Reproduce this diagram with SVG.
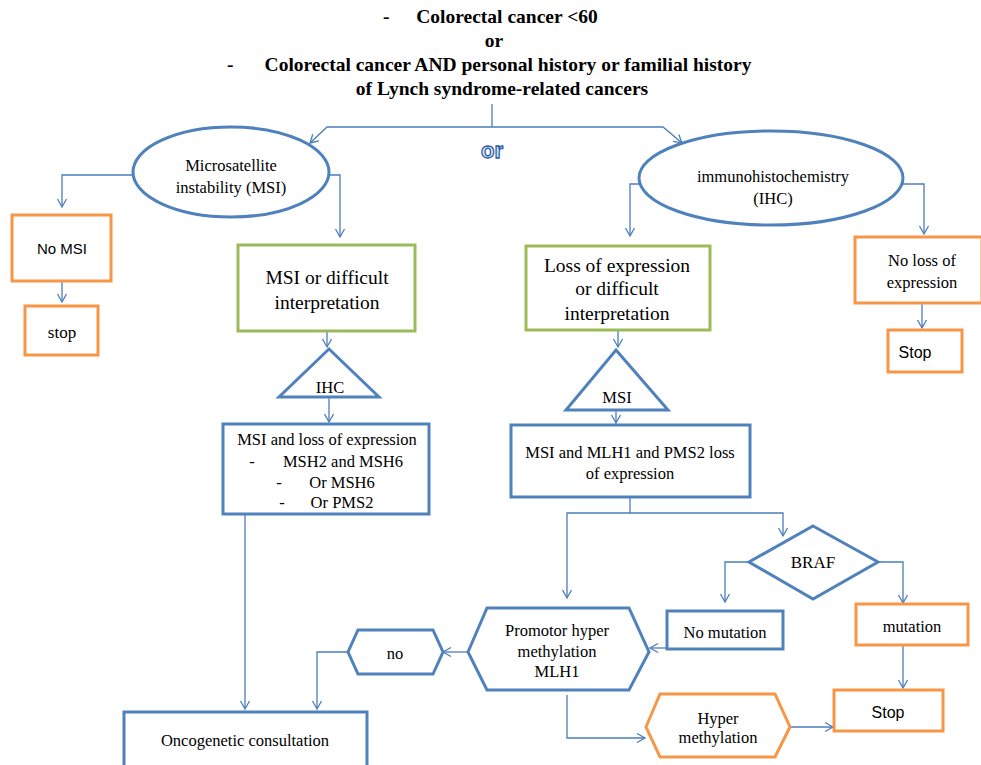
<svg xmlns="http://www.w3.org/2000/svg" width="981" height="765" viewBox="0 0 981 765">
<defs>
<marker id="arr" markerUnits="userSpaceOnUse" markerWidth="12" markerHeight="12" refX="9" refY="6" orient="auto">
<path d="M1,1.5 L9,6 L1,10.5" fill="none" stroke="#4A7EBB" stroke-width="1.3"/>
</marker>
</defs>
<style>
.bl{fill:#fff;stroke:#4F81BD;stroke-width:3}
.or{fill:#fff;stroke:#F79646;stroke-width:3}
.gr{fill:#fff;stroke:#9BBB59;stroke-width:3}
.c{fill:none;stroke:#4A7EBB;stroke-width:1.3}
.ca{fill:none;stroke:#4A7EBB;stroke-width:1.3;marker-end:url(#arr)}
.t{font-family:"Liberation Serif","Times New Roman",serif;fill:#000;text-anchor:middle;font-size:16.5px}
.s{font-family:"Liberation Sans",Arial,sans-serif;fill:#000;text-anchor:middle;font-size:15px}
.g{font-size:19.5px}
.h{font-family:"Liberation Serif","Times New Roman",serif;font-weight:bold;font-size:19.5px;fill:#000}
</style>
<rect width="981" height="765" fill="#fff"/>

<g id="title">
<text class="h" x="383" y="23">-</text>
<text class="h" x="507" y="23" text-anchor="middle">Colorectal cancer &lt;60</text>
<text class="h" x="494" y="47" text-anchor="middle">or</text>
<text class="h" x="227" y="71">-</text>
<text class="h" x="508" y="71" text-anchor="middle">Colorectal cancer AND personal history or familial history</text>
<text class="h" x="502" y="95" text-anchor="middle">of Lynch syndrome-related cancers</text>
</g>

<g id="or-label">
<text x="492" y="158" font-family="Liberation Sans,Arial,sans-serif" font-weight="bold" font-size="22" text-anchor="middle" fill="#e3edf8" stroke="#2A5CA8" stroke-width="1.3">or</text>
</g>

<g id="connectors">
<path class="c" d="M492,104 V127"/>
<path class="ca" d="M492,127 H327 L310,143"/>
<path class="ca" d="M492,127 H663 L682,143"/>
<path class="ca" d="M133,175 H62 V207"/>
<path class="ca" d="M329,175 H340 V237"/>
<path class="ca" d="M62,281 V302"/>
<path class="ca" d="M327,331 V347"/>
<path class="ca" d="M329,398 V422"/>
<path class="ca" d="M245,513 V709"/>
<path class="ca" d="M641,184 H630 V236"/>
<path class="ca" d="M902,184 H924 V234"/>
<path class="ca" d="M922,303 V328"/>
<path class="ca" d="M618,331 V347"/>
<path class="ca" d="M616,410 V423"/>
<path class="c" d="M630,497 V513"/>
<path class="ca" d="M630,513 H567 V598"/>
<path class="ca" d="M630,513 H783 V536"/>
<path class="ca" d="M749,562 H725 V602"/>
<path class="ca" d="M878,562 H903 V603"/>
<path class="ca" d="M667,648 H650"/>
<path class="ca" d="M903,645 V688"/>
<path class="ca" d="M468,652 H443"/>
<path class="ca" d="M348,652 H317 V709"/>
<path class="ca" d="M567,695 V738 H645"/>
<path class="ca" d="M790,727 H833"/>
</g>

<g id="msi">
<ellipse class="bl" cx="231" cy="172" rx="98" ry="45"/>
<text class="t" x="231" y="171">Microsatellite</text>
<text class="t" x="231" y="193">instability (MSI)</text>
</g>

<g id="no-msi">
<rect class="or" x="12" y="215" width="99" height="66"/>
<text class="s" x="62" y="254">No MSI</text>
</g>

<g id="stop-left">
<rect class="or" x="25" y="306" width="73" height="49"/>
<text class="t" x="62" y="338" style="font-size:17px">stop</text>
</g>

<g id="msi-difficult">
<rect class="gr" x="238" y="245" width="177" height="86"/>
<text class="t g" x="327" y="284">MSI or difficult</text>
<text class="t g" x="327" y="309">interpretation</text>
</g>

<g id="ihc-triangle">
<polygon class="bl" points="329,349 379,397 279,397"/>
<text class="t" x="330" y="393">IHC</text>
</g>

<g id="msi-loss">
<rect class="bl" x="223" y="424" width="206" height="90"/>
<text class="t" x="327" y="445">MSI and loss of expression</text>
<text class="t" x="252" y="467">-</text>
<text class="t" x="343" y="467">MSH2 and MSH6</text>
<text class="t" x="279" y="488">-</text>
<text class="t" x="342" y="488">Or MSH6</text>
<text class="t" x="282" y="508">-</text>
<text class="t" x="342" y="508">Or PMS2</text>
</g>

<g id="oncogenetic">
<rect class="bl" x="124" y="712" width="243" height="60"/>
<text class="t" x="245" y="746">Oncogenetic consultation</text>
</g>

<g id="ihc">
<ellipse class="bl" cx="771" cy="178" rx="132" ry="47"/>
<text class="t" x="773" y="182">immunohistochemistry</text>
<text class="t" x="773" y="204">(IHC)</text>
</g>

<g id="loss-difficult">
<rect class="gr" x="526" y="246" width="184" height="84"/>
<text class="t g" x="617" y="272">Loss of expression</text>
<text class="t g" x="617" y="295">or difficult</text>
<text class="t g" x="617" y="320">interpretation</text>
</g>

<g id="no-loss">
<rect class="or" x="855" y="237" width="127" height="66"/>
<text class="t" x="922" y="266">No loss of</text>
<text class="t" x="922" y="288">expression</text>
</g>

<g id="stop-right">
<rect class="or" x="888" y="330" width="74" height="42"/>
<text class="s" x="915" y="358" style="font-size:16px">Stop</text>
</g>

<g id="msi-triangle">
<polygon class="bl" points="616,350 668,410 566,410"/>
<text class="t" x="617" y="403">MSI</text>
</g>

<g id="mlh1-loss">
<rect class="bl" x="511" y="425" width="239" height="72"/>
<text class="t" x="630" y="458">MSI and MLH1 and PMS2 loss</text>
<text class="t" x="630" y="479">of expression</text>
</g>

<g id="braf">
<polygon class="bl" points="813,526 878,562 813,599 749,562"/>
<text class="t" x="813" y="568" style="font-size:17px">BRAF</text>
</g>

<g id="no-mutation">
<rect class="bl" x="667" y="611" width="116" height="38"/>
<text class="t" x="725" y="638">No mutation</text>
</g>

<g id="mutation">
<rect class="or" x="856" y="604" width="112" height="41"/>
<text class="t" x="912" y="632">mutation</text>
</g>

<g id="stop-bottom">
<rect class="or" x="834" y="690" width="109" height="41"/>
<text class="s" x="888" y="718" style="font-size:16px">Stop</text>
</g>

<g id="promotor">
<polygon class="bl" points="468,652 487,608 629,608 649,652 629,690 487,690"/>
<text class="t" x="557" y="636">Promotor hyper</text>
<text class="t" x="557" y="657">methylation</text>
<text class="t" x="557" y="677">MLH1</text>
</g>

<g id="no">
<polygon class="bl" points="348,652 358,630 433,630 443,652 433,674 358,674"/>
<text class="t" x="395" y="659">no</text>
</g>

<g id="hyper">
<polygon class="or" points="646,727 660,694 775,694 790,727 775,757 660,757"/>
<text class="t" x="718" y="724">Hyper</text>
<text class="t" x="718" y="743">methylation</text>
</g>
</svg>
